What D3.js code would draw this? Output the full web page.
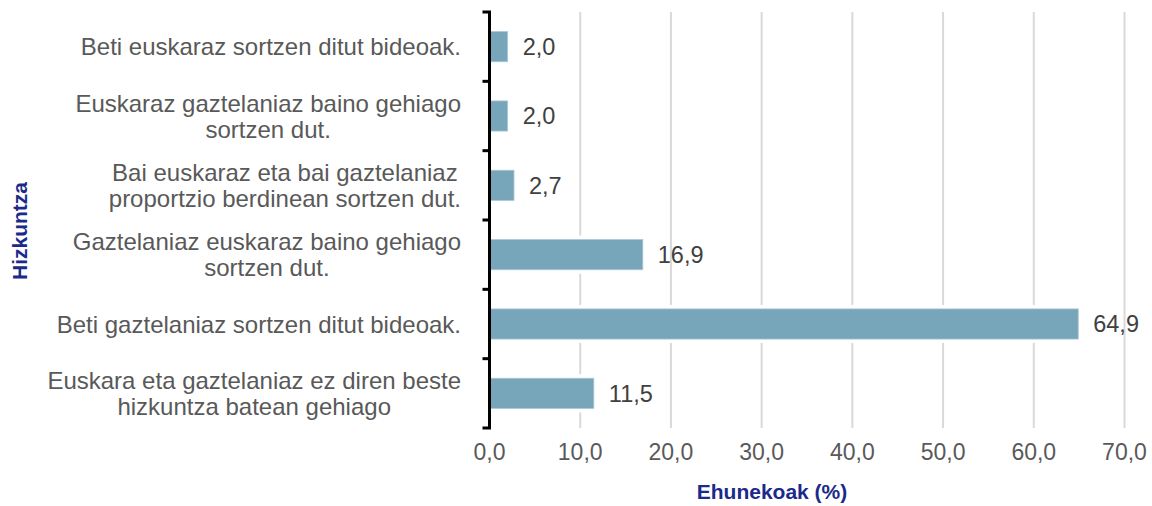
<!DOCTYPE html>
<html>
<head>
<meta charset="utf-8">
<script src="https://cdn.jsdelivr.net/npm/d3@7"></script>
<style>
  html, body { margin: 0; padding: 0; background: #ffffff; }
  svg { display: block; font-family: "Liberation Sans", Arial, sans-serif; }
</style>
</head>
<body>
<svg id="chart" width="1152" height="506"></svg>
<script>
const categories = [
  ["Beti euskaraz sortzen ditut bideoak."],
  ["Euskaraz gaztelaniaz baino gehiago", "sortzen dut."],
  ["Bai euskaraz eta bai gaztelaniaz", "proportzio berdinean sortzen dut."],
  ["Gaztelaniaz euskaraz baino gehiago", "sortzen dut."],
  ["Beti gaztelaniaz sortzen ditut bideoak."],
  ["Euskara eta gaztelaniaz ez diren beste", "hizkuntza batean gehiago"]
];
const values = [2.0, 2.0, 2.7, 16.9, 64.9, 11.5];
const xTicks = [0, 10, 20, 30, 40, 50, 60, 70];
const xTitle = "Ehunekoak (%)";
const yTitle = "Hizkuntza";

const svg = d3.select("#chart");
const margin = { left: 489.5, right: 1124.5, top: 12, bottom: 428 };
const fmt = v => v.toFixed(1).replace(".", ",");

const x = d3.scaleLinear().domain([0, 70]).range([margin.left, margin.right]);
const idx = d3.range(categories.length);
const y = d3.scaleBand().domain(idx).range([margin.top, margin.bottom]).paddingInner(0.565).paddingOuter(0.2825);
const yb = d3.scaleBand().domain(idx).range([margin.top, margin.bottom]);

// gridlines
svg.append("g").selectAll("line").data(xTicks.filter(d => d > 0)).join("line")
  .attr("x1", d => x(d)).attr("x2", d => x(d))
  .attr("y1", margin.top).attr("y2", margin.bottom)
  .attr("stroke", "#d9d9d9").attr("stroke-width", 2);

// white halo behind bars
svg.append("g").selectAll("rect").data(values).join("rect")
  .attr("x", x(0)).attr("y", (d, i) => y(i) - 4)
  .attr("width", d => x(d) - x(0)).attr("height", y.bandwidth() + 8)
  .attr("fill", "#ffffff");

// bars
svg.append("g").selectAll("rect").data(values).join("rect")
  .attr("x", x(0)).attr("y", (d, i) => y(i))
  .attr("width", d => x(d) - x(0)).attr("height", y.bandwidth())
  .attr("fill", "#77a5b9").attr("stroke", "#a9c8d5").attr("stroke-width", 0.8);

// value labels
svg.append("g").selectAll("text").data(values).join("text")
  .attr("x", d => x(d) + 15)
  .attr("y", (d, i) => y(i) + y.bandwidth() / 2)
  .attr("dy", "0.36em")
  .attr("font-size", 23.5).attr("fill", "#404040")
  .text(d => fmt(d));

// y axis line with ticks
const yAxis = svg.append("g").attr("fill", "none").attr("stroke", "#000").attr("stroke-width", 3);
yAxis.append("line").attr("x1", x(0)).attr("x2", x(0)).attr("y1", margin.top).attr("y2", margin.bottom);
const bounds = idx.map(i => yb(i)).concat([margin.bottom]);
yAxis.selectAll("line.tick").data(bounds).join("line").attr("class", "tick")
  .attr("x1", x(0) - 7).attr("x2", x(0) + 1.5)
  .attr("y1", d => d).attr("y2", d => d);

// category labels
const rightEdge = 461;
const lineH = 26;
const catG = svg.append("g");
categories.forEach((lines, i) => {
  const cy = yb(i) + yb.bandwidth() / 2;
  const g = catG.append("g");
  const texts = lines.map((ln, k) => g.append("text")
    .attr("y", cy + (k - (lines.length - 1) / 2) * lineH)
    .attr("dy", "0.36em")
    .attr("font-size", 24).attr("fill", "#595959")
    .attr("text-anchor", "middle")
    .text(ln));
  const maxW = d3.max(texts, t => t.node().getComputedTextLength());
  texts.forEach(t => t.attr("x", rightEdge - maxW / 2));
});

// x axis tick labels
svg.append("g").selectAll("text").data(xTicks).join("text")
  .attr("x", d => x(d)).attr("y", 452).attr("dy", "0.36em")
  .attr("text-anchor", "middle").attr("font-size", 23).attr("fill", "#595959")
  .text(d => fmt(d));

// axis titles
svg.append("text").attr("x", 772).attr("y", 499)
  .attr("text-anchor", "middle").attr("font-size", 21).attr("font-weight", "bold")
  .attr("fill", "#1b2a8a").text(xTitle);
svg.append("text").attr("transform", "translate(27,231) rotate(-90)")
  .attr("text-anchor", "middle").attr("font-size", 21).attr("font-weight", "bold")
  .attr("fill", "#1b2a8a").text(yTitle);
</script>
</body>
</html>
